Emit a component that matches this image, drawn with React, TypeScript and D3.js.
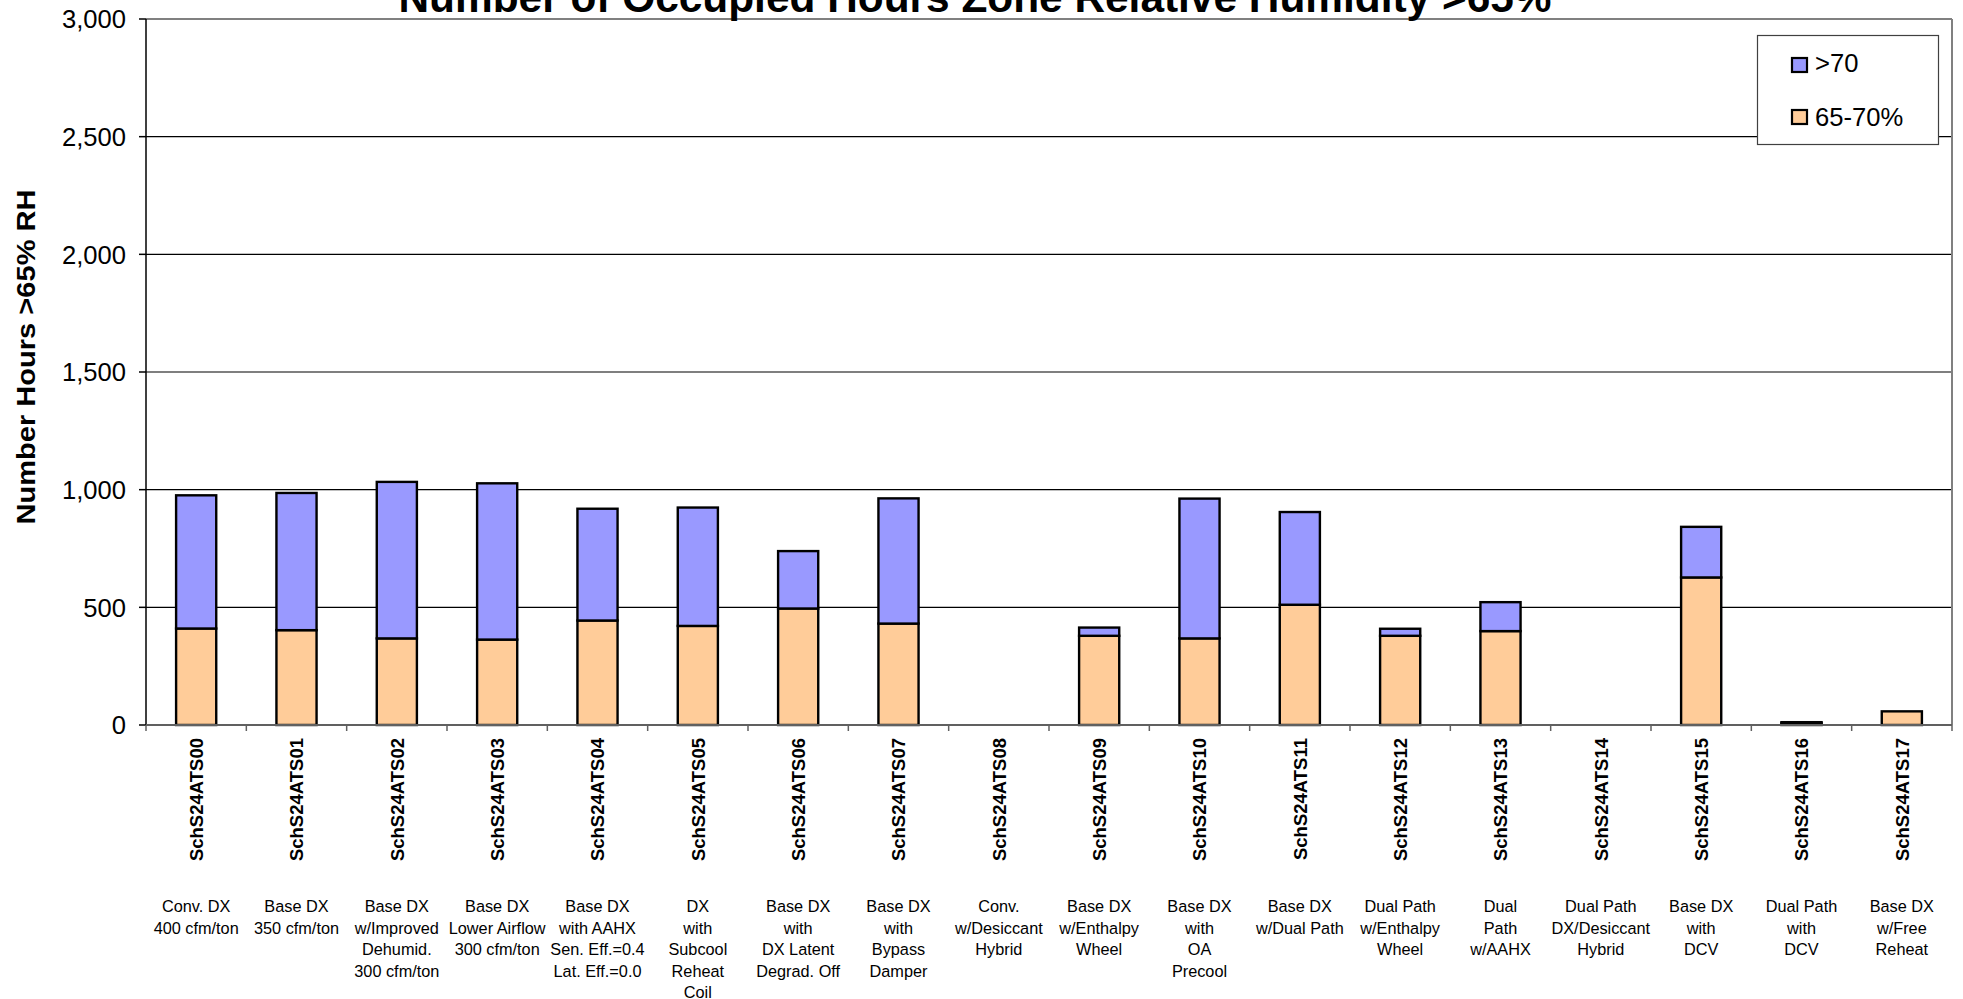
import React from "react";
import * as d3 from "d3";

const categories = [
  "SchS24ATS00", "SchS24ATS01", "SchS24ATS02", "SchS24ATS03", "SchS24ATS04", "SchS24ATS05",
  "SchS24ATS06", "SchS24ATS07", "SchS24ATS08", "SchS24ATS09", "SchS24ATS10", "SchS24ATS11",
  "SchS24ATS12", "SchS24ATS13", "SchS24ATS14", "SchS24ATS15", "SchS24ATS16", "SchS24ATS17",
];

const descriptions: string[][] = [
  ["Conv. DX", "400 cfm/ton"],
  ["Base DX", "350 cfm/ton"],
  ["Base DX", "w/Improved", "Dehumid.", "300 cfm/ton"],
  ["Base DX", "Lower Airflow", "300 cfm/ton"],
  ["Base DX", "with AAHX", "Sen. Eff.=0.4", "Lat. Eff.=0.0"],
  ["DX", "with", "Subcool", "Reheat", "Coil"],
  ["Base DX", "with", "DX Latent", "Degrad. Off"],
  ["Base DX", "with", "Bypass", "Damper"],
  ["Conv.", "w/Desiccant", "Hybrid"],
  ["Base DX", "w/Enthalpy", "Wheel"],
  ["Base DX", "with", "OA", "Precool"],
  ["Base DX", "w/Dual Path"],
  ["Dual Path", "w/Enthalpy", "Wheel"],
  ["Dual", "Path", "w/AAHX"],
  ["Dual Path", "DX/Desiccant", "Hybrid"],
  ["Base DX", "with", "DCV"],
  ["Dual Path", "with", "DCV"],
  ["Base DX", "w/Free", "Reheat"],
];

const hours65to70 = [410, 403, 368, 363, 444, 421, 495, 431, 0, 379, 368, 511, 379, 399, 0, 627, 8, 58];
const hoursOver70 = [566, 583, 665, 664, 475, 503, 244, 532, 0, 35, 594, 394, 30, 123, 0, 215, 4, 0];

const yTicks = [0, 500, 1000, 1500, 2000, 2500, 3000];
const seriesNames = [">70", "65-70%"];
const seriesColors = ["#9999FF", "#FFCC99"];

const FONT = "'Liberation Sans', Arial, Helvetica, sans-serif";

export default function App() {
  const W = 1963;
  const H = 999;
  const left = 146;
  const right = 1952;
  const top = 19;
  const bottom = 725;

  const x = d3.scaleBand<string>().domain(categories).range([left, right]).paddingInner(0.6).paddingOuter(0.3);
  const y = d3.scaleLinear().domain([0, 3000]).range([bottom, top]);
  const step = x.step();
  const fmt = d3.format(",");

  const stackData = categories.map((c, i) => ({ cat: c, low: hours65to70[i], high: hoursOver70[i] }));
  const stack = d3.stack<any>().keys(["low", "high"])(stackData);

  return (
    <svg width={W} height={H} style={{ position: "absolute", left: 0, top: 0, background: "#fff" }} fontFamily={FONT}>
      <rect x={0} y={0} width={W} height={H} fill="#fff" />
      {/* gridlines */}
      {yTicks.filter((t) => t > 0 && t < 3000).map((t) => (
        <line key={"g" + t} x1={left} x2={right} y1={y(t)} y2={y(t)} stroke="#000" strokeWidth={1.2} />
      ))}
      {/* plot border top/right */}
      <line x1={left} x2={right} y1={y(3000)} y2={y(3000)} stroke="#808080" strokeWidth={2} />
      <line x1={right} x2={right} y1={top} y2={bottom} stroke="#808080" strokeWidth={2} />

      {/* bars */}
      {stack.map((layer, li) => (
        <g key={"s" + li}>
          {layer.map((d: any, i: number) => {
            const h = y(d[0]) - y(d[1]);
            if (h <= 0) return null;
            return (
              <rect
                key={i}
                x={x(categories[i])}
                y={y(d[1])}
                width={x.bandwidth()}
                height={h}
                fill={seriesColors[1 - li]}
                stroke="#000"
                strokeWidth={2.4}
              />
            );
          })}
        </g>
      ))}

      {/* y axis */}
      <line x1={left} x2={left} y1={top} y2={bottom} stroke="#000" strokeWidth={1.5} />
      {yTicks.map((t) => (
        <g key={"yt" + t}>
          <line x1={left - 7} x2={left} y1={y(t)} y2={y(t)} stroke="#000" strokeWidth={1.5} />
          <text x={126} y={y(t)} dy="0.36em" textAnchor="end" fontSize={25.6} fill="#000">
            {fmt(t)}
          </text>
        </g>
      ))}

      {/* x axis */}
      <line x1={left} x2={right} y1={bottom} y2={bottom} stroke="#606060" strokeWidth={2} />
      {d3.range(categories.length + 1).map((i) => (
        <line key={"xt" + i} x1={left + i * step} x2={left + i * step} y1={bottom} y2={bottom + 6} stroke="#606060" strokeWidth={1.5} />
      ))}

      {/* rotated category labels */}
      {categories.map((c) => {
        const cx = (x(c) as number) + x.bandwidth() / 2;
        return (
          <text
            key={"cl" + c}
            transform={`translate(${cx},738) rotate(-90)`}
            dy="0.36em"
            textAnchor="end"
            fontSize={18.5}
            fontWeight="bold"
            fill="#000"
          >
            {c}
          </text>
        );
      })}

      {/* description labels */}
      {categories.map((c, i) => {
        const cx = (x(c) as number) + x.bandwidth() / 2;
        return (
          <text key={"dl" + c} textAnchor="middle" fontSize={16.3} fill="#000">
            {descriptions[i].map((line, j) => (
              <tspan key={j} x={cx} y={912 + j * 21.6}>
                {line}
              </tspan>
            ))}
          </text>
        );
      })}

      {/* y axis title */}
      <text
        transform="translate(26,357) rotate(-90)"
        dy="0.36em"
        textAnchor="middle"
        fontSize={25.6}
        fontWeight="bold"
        textLength={335}
        lengthAdjust="spacingAndGlyphs"
        fill="#000"
      >
        Number Hours &gt;65% RH
      </text>

      {/* title */}
      <text x={975} y={12} textAnchor="middle" fontSize={42.4} fontWeight="bold" fill="#000">
        Number of Occupied Hours Zone Relative Humidity &gt;65%
      </text>

      {/* legend */}
      <g>
        <rect x={1757.5} y={35.5} width={181} height={109} fill="#fff" stroke="#404040" strokeWidth={1.2} />
        {seriesNames.map((n, i) => (
          <g key={"lg" + n}>
            <rect x={1792} y={58 + i * 52} width={15} height={14} fill={seriesColors[i]} stroke="#000" strokeWidth={2.2} />
            <text x={1815} y={72 + i * 54} fontSize={25.6} fill="#000">
              {n}
            </text>
          </g>
        ))}
      </g>
    </svg>
  );
}
